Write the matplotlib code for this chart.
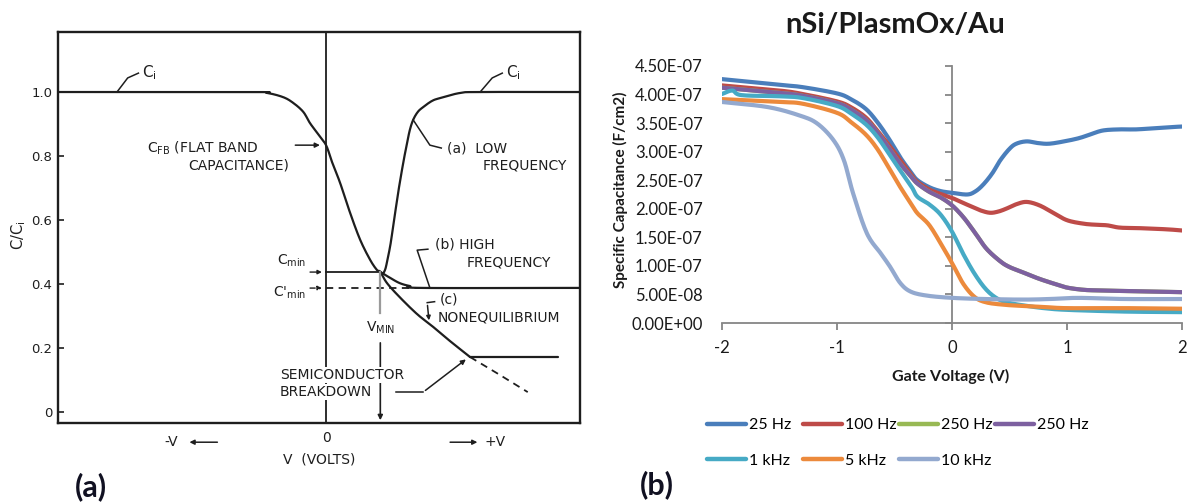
import numpy as np
import matplotlib
matplotlib.use("Agg")
import matplotlib.pyplot as plt
from matplotlib.lines import Line2D

# ---------- panel (a): textbook MOS C-V sketch (C/Ci vs V, arbitrary volts) ----------
main_v = [-4.0, -1.13, -0.88, -0.64, -0.49, -0.34, -0.24, -0.12, 0.0, 0.09, 0.21, 0.36,
          0.51, 0.66, 0.76, 0.81, 0.91, 1.10, 1.36, 1.60, 1.85, 2.15]
main_c = [1.0, 1.0, 0.997, 0.984, 0.966, 0.938, 0.903, 0.869, 0.834, 0.781, 0.716, 0.622,
          0.538, 0.475, 0.444, 0.438, 0.403, 0.359, 0.306, 0.266, 0.222, 0.172]
low_v = [0.81, 0.84, 0.88, 0.91, 0.96, 1.00, 1.06, 1.10, 1.16, 1.21, 1.25, 1.30, 1.37,
         1.45, 1.58, 1.70, 2.00, 2.30, 3.79]
low_c = [0.438, 0.431, 0.444, 0.469, 0.522, 0.578, 0.663, 0.716, 0.788, 0.841, 0.881,
         0.913, 0.938, 0.953, 0.972, 0.981, 0.997, 1.0, 1.0]
high_v = [0.81, 0.96, 1.10, 1.25, 1.45, 3.79]
high_c = [0.438, 0.419, 0.403, 0.394, 0.388, 0.388]
brk_v = [2.15, 3.46]
brk_c = [0.172, 0.172]
beyond_v = [2.15, 2.58, 3.01]
beyond_c = [0.172, 0.118, 0.0625]
c_min = 0.4375
c_min_prime = 0.3875
v_min = 0.81
a_ticks = [0, 0.2, 0.4, 0.6, 0.8, 1.0]
a_ticklabels = ["0", "0.2", "0.4", "0.6", "0.8", "1.0"]

# ---------- panel (b): measured C-V, nSi/PlasmOx/Au (C in 1e-7 F/cm2) ----------
v_25hz = [-2.0, -1.5, -1.3, -1.0, -0.88, -0.75, -0.65, -0.55, -0.45, -0.35, -0.3, -0.2, -0.1,
          0.0, 0.13, 0.2, 0.27, 0.35, 0.42, 0.5, 0.56, 0.65, 0.75, 0.85, 1.0, 1.11, 1.2,
          1.31, 1.45, 1.6, 1.75, 1.9, 2.0]
c_25hz = [4.27, 4.17, 4.13, 4.02, 3.92, 3.75, 3.52, 3.23, 2.90, 2.62, 2.50, 2.38, 2.31,
          2.28, 2.25, 2.30, 2.42, 2.62, 2.85, 3.05, 3.14, 3.18, 3.15, 3.14, 3.19, 3.24, 3.30,
          3.37, 3.39, 3.39, 3.41, 3.43, 3.44]
v_100hz = [-2.0, -1.5, -1.3, -1.0, -0.88, -0.75, -0.65, -0.55, -0.45, -0.35, -0.3, -0.2, -0.1,
           0.0, 0.1, 0.18, 0.25, 0.33, 0.4, 0.47, 0.56, 0.65, 0.76, 0.88, 1.0, 1.14, 1.25,
           1.35, 1.46, 1.64, 1.87, 2.0]
c_100hz = [4.16, 4.07, 4.01, 3.88, 3.78, 3.60, 3.37, 3.12, 2.85, 2.58, 2.47, 2.34, 2.26,
           2.19, 2.10, 2.03, 1.97, 1.93, 1.95, 2.00, 2.08, 2.12, 2.06, 1.93, 1.80, 1.74, 1.72,
           1.71, 1.67, 1.66, 1.64, 1.62]
v_250hz = [-2.0, -1.5, -1.3, -1.0, -0.88, -0.75, -0.65, -0.55, -0.45, -0.35, -0.3, -0.2, -0.1,
           0.0, 0.1, 0.2, 0.3, 0.42, 0.5, 0.6, 0.75, 0.9, 1.0, 1.15, 1.3, 1.5, 1.75, 2.0]
c_250hz = [4.12, 4.03, 3.98, 3.85, 3.74, 3.56, 3.34, 3.07, 2.79, 2.55, 2.44, 2.30, 2.20,
           2.06, 1.85, 1.58, 1.30, 1.08, 0.98, 0.90, 0.78, 0.68, 0.62, 0.58, 0.57, 0.56, 0.55,
           0.54]
v_1khz = [-2.0, -1.91, -1.83, -1.5, -1.3, -1.0, -0.88, -0.75, -0.65, -0.55, -0.45, -0.35,
          -0.3, -0.2, -0.1, 0.0, 0.1, 0.2, 0.3, 0.4, 0.5, 0.65, 0.8, 1.0, 1.5, 2.0]
c_1khz = [4.01, 4.07, 3.99, 3.97, 3.94, 3.80, 3.67, 3.48, 3.26, 2.97, 2.67, 2.38,
          2.21, 2.08, 1.90, 1.60, 1.20, 0.85, 0.58, 0.42, 0.35, 0.30, 0.26, 0.23, 0.20, 0.19]
v_5khz = [-2.0, -1.5, -1.3, -1.0, -0.88, -0.75, -0.65, -0.55, -0.45, -0.35, -0.3, -0.2, -0.1,
          0.0, 0.1, 0.2, 0.3, 0.45, 0.6, 0.8, 1.0, 1.5, 2.0]
c_5khz = [3.92, 3.87, 3.84, 3.68, 3.52, 3.30, 3.05, 2.72, 2.38, 2.07, 1.92, 1.72, 1.40,
          1.05, 0.68, 0.45, 0.36, 0.32, 0.30, 0.28, 0.26, 0.26, 0.25]
v_10khz = [-2.0, -1.6, -1.32, -1.17, -1.03, -0.94, -0.86, -0.74, -0.62, -0.54, -0.45, -0.36,
           -0.22, 0.0, 0.28, 0.62, 0.85, 1.1, 1.5, 2.0]
c_10khz = [3.87, 3.78, 3.63, 3.49, 3.20, 2.85, 2.27, 1.57, 1.22, 0.99, 0.70, 0.55,
           0.48, 0.44, 0.42, 0.41, 0.42, 0.44, 0.42, 0.42]

series = [
    ("25 Hz", v_25hz, c_25hz, "#4a7ebb"),
    ("100 Hz", v_100hz, c_100hz, "#be4b48"),
    ("250 Hz", v_250hz, c_250hz, "#98b954"),
    ("250 Hz", v_250hz, c_250hz, "#7d60a0"),
    ("1 kHz", v_1khz, c_1khz, "#46aac5"),
    ("5 kHz", v_5khz, c_5khz, "#ec8a3c"),
    ("10 kHz", v_10khz, c_10khz, "#93a9cf"),
]
b_yticks = np.arange(0, 4.51e-7, 0.5e-7)
b_xticks = [-2, -1, 0, 1, 2]


def smooth(x, y, n=12):
    """Catmull-Rom path through the points, like Excel's 'smoothed line'."""
    x = np.asarray(x, float)
    y = np.asarray(y, float)
    px = np.r_[2 * x[0] - x[1], x, 2 * x[-1] - x[-2]]
    py = np.r_[2 * y[0] - y[1], y, 2 * y[-1] - y[-2]]
    t = np.linspace(0, 1, n, endpoint=False)[:, None]
    pts = []
    for i in range(len(x) - 1):
        p0, p1, p2, p3 = (np.array([px[i + k], py[i + k]]) for k in range(4))
        seg = 0.5 * ((2 * p1) + (-p0 + p2) * t + (2 * p0 - 5 * p1 + 4 * p2 - p3) * t ** 2
                     + (-p0 + 3 * p1 - 3 * p2 + p3) * t ** 3)
        pts.append(seg)
    pts.append(np.array([[x[-1], y[-1]]]))
    pts = np.vstack(pts)
    return pts[:, 0], pts[:, 1]


W, H = 1196, 504
fig = plt.figure(figsize=(W / 100, H / 100), dpi=100)

# ================= (a) =================
ink = "#1e1e1e"
fs = 10
ax1 = fig.add_axes([58 / W, 1 - 423 / H, 522 / W, 391 / H])
ax1.set_xlim(-4.0, 3.79)
ax1.set_ylim(-0.034, 1.1875)
kw = dict(color=ink, lw=1.6, solid_capstyle="round")
ax1.plot(*smooth(main_v, main_c), **kw)
ax1.plot(*smooth(low_v, low_c), **kw)
ax1.plot(*smooth(high_v, high_c), **kw)
ax1.plot(brk_v, brk_c, **kw)
ax1.plot(beyond_v, beyond_c, color=ink, lw=1.3, ls=(0, (4, 3)))
ax1.axvline(0, color=ink, lw=1.3, zorder=1)
ax1.plot([0, v_min], [c_min, c_min], color=ink, lw=1.3)
ax1.plot([0, high_v[-2]], [c_min_prime, c_min_prime], color=ink, lw=1.3, ls=(0, (4, 3)))
# V_min marker
ax1.plot([v_min, v_min], [c_min, 0.309], color="#9a9a9a", lw=1.6)
ax1.annotate("", xy=(v_min, -0.034), xytext=(v_min, 0.225),
             arrowprops=dict(arrowstyle="-|>", color=ink, lw=1.2, mutation_scale=7))
for s in ax1.spines.values():
    s.set_linewidth(1.7)
    s.set_color(ink)
ax1.set_yticks(a_ticks, a_ticklabels)
ax1.tick_params(axis="y", direction="in", length=4, width=1.2, labelsize=9.5, pad=4,
                colors=ink)
ax1.set_xticks([0], ["0"])
ax1.tick_params(axis="x", length=0, labelsize=fs, pad=6, colors=ink)
ax1.set_xlabel("V  (VOLTS)", fontsize=fs, labelpad=5, color=ink)
ax1.set_ylabel(r"C/C$_\mathregular{i}$", fontsize=10.5, color=ink)
ax1.yaxis.set_label_coords(-0.058, 0.48)

tk = dict(fontsize=fs, color=ink, clip_on=False)
lk = dict(color=ink, lw=1.1, clip_on=False)
# C_i labels
ax1.plot([-3.12, -2.96, -2.80], [1.0, 1.044, 1.059], **lk)
ax1.text(-2.74, 1.059, r"C$_\mathregular{i}$", va="center", ha="left", fontsize=11, color=ink)
ax1.plot([2.30, 2.48, 2.63], [1.0, 1.044, 1.059], **lk)
ax1.text(2.69, 1.059, r"C$_\mathregular{i}$", va="center", ha="left", fontsize=11, color=ink)
# flat band
ax1.text(-2.67, 0.825, r"C$_\mathregular{FB}$ (FLAT BAND", va="center", ha="left", **tk)
ax1.text(-2.06, 0.772, "CAPACITANCE)", va="center", ha="left", **tk)
ax1.annotate("", xy=(-0.05, 0.834), xytext=(-0.50, 0.834),
             arrowprops=dict(arrowstyle="-|>", color=ink, lw=1.1, mutation_scale=7))
# low frequency
ax1.plot([1.30, 1.55, 1.72], [0.913, 0.834, 0.825], **lk)
ax1.text(1.81, 0.822, "(a)  LOW", va="center", ha="left", **tk)
ax1.text(2.33, 0.772, "FREQUENCY", va="center", ha="left", **tk)
# high frequency
ax1.plot([1.55, 1.36, 1.52], [0.388, 0.506, 0.509], **lk)
ax1.text(1.63, 0.525, "(b) HIGH", va="center", ha="left", **tk)
ax1.text(2.10, 0.466, "FREQUENCY", va="center", ha="left", **tk)
# nonequilibrium
ax1.plot([1.62, 1.51], [0.345, 0.342], **lk)
ax1.annotate("", xy=(1.54, 0.278), xytext=(1.51, 0.342),
             arrowprops=dict(arrowstyle="-|>", color=ink, lw=1.1, mutation_scale=6))
ax1.text(1.70, 0.352, "(c)", va="center", ha="left", **tk)
ax1.text(1.67, 0.297, "NONEQUILIBRIUM", va="center", ha="left", **tk)
# C_min labels
ax1.text(-0.30, 0.472, r"C$_\mathregular{min}$", va="center", ha="right", **tk)
ax1.annotate("", xy=(-0.02, c_min), xytext=(-0.28, c_min),
             arrowprops=dict(arrowstyle="-|>", color=ink, lw=1.0, mutation_scale=6))
ax1.text(-0.30, 0.372, r"C'$_\mathregular{min}$", va="center", ha="right", **tk)
ax1.annotate("", xy=(-0.02, c_min_prime), xytext=(-0.28, c_min_prime),
             arrowprops=dict(arrowstyle="-|>", color=ink, lw=1.0, ls="--",
                             mutation_scale=6))
ax1.text(v_min, 0.262, r"V$_\mathregular{MIN}$", va="center", ha="center", **tk)
# breakdown
wb = dict(fc="white", ec="none", pad=1.0)
ax1.text(-0.69, 0.116, "SEMICONDUCTOR", va="center", ha="left", bbox=wb, zorder=5, **tk)
ax1.text(-0.69, 0.0625, "BREAKDOWN", va="center", ha="left", bbox=wb, zorder=5, **tk)
ax1.plot([1.05, 1.45], [0.0625, 0.0625], **lk)
ax1.annotate("", xy=(2.12, 0.170), xytext=(1.45, 0.0625),
             arrowprops=dict(arrowstyle="-|>", color=ink, lw=1.1, mutation_scale=7))
# voltage direction
ax1.text(-2.31, -0.094, "-V", va="center", ha="center", **tk)
ax1.annotate("", xy=(-2.08, -0.094), xytext=(-1.58, -0.094), annotation_clip=False,
             arrowprops=dict(arrowstyle="-|>", color=ink, lw=1.1, mutation_scale=7))
ax1.annotate("", xy=(2.30, -0.094), xytext=(1.81, -0.094), annotation_clip=False,
             arrowprops=dict(arrowstyle="-|>", color=ink, lw=1.1, mutation_scale=7))
ax1.text(2.52, -0.094, "+V", va="center", ha="center", **tk)

# ================= (b) =================
font_b = ["Lato", "DejaVu Sans"]
axis_gray = "#868686"
ax2 = fig.add_axes([722 / W, 1 - 323 / H, 460 / W, 257 / H])
ax2.set_xlim(-2, 2)
ax2.set_ylim(0, 4.5e-7)
ax2.patch.set_visible(False)
for label, v, c, col in series:
    sx, sy = smooth(v, np.array(c) * 1e-7)
    ax2.plot(sx, sy, color=col, lw=3.0, label=label,
             solid_capstyle="round", solid_joinstyle="round")
for side in ("top", "right", "left"):
    ax2.spines[side].set_visible(False)
ax2.spines["bottom"].set_color(axis_gray)
ax2.spines["bottom"].set_linewidth(1.3)
ax2.set_yticks(b_yticks, ["{:.2E}".format(t) for t in b_yticks])
ax2.tick_params(axis="y", length=0, pad=14, labelsize=12, labelcolor="#1a1a1a")
ax2.set_xticks(b_xticks, [str(t) for t in b_xticks])
ax2.tick_params(axis="x", direction="out", length=5, width=1.3, color=axis_gray,
                pad=7, labelsize=12, labelcolor="#1a1a1a")
for t in ax2.get_xticklabels() + ax2.get_yticklabels():
    t.set_family(font_b)

# vertical axis crossing at V = 0, drawn behind the data
ax3 = ax2.twinx()
ax3.set_ylim(ax2.get_ylim())
ax3.set_zorder(ax2.get_zorder() - 1)
ax3.patch.set_visible(False)
for side in ("top", "left", "bottom"):
    ax3.spines[side].set_visible(False)
ax3.spines["right"].set_position(("axes", 0.5))
ax3.spines["right"].set_color(axis_gray)
ax3.spines["right"].set_linewidth(1.3)
ax3.set_yticks(b_yticks)
ax3.tick_params(axis="y", direction="in", length=5, width=1.3, color=axis_gray,
                labelright=False)

fig.text(895 / W, 1 - 25 / H, "nSi/PlasmOx/Au", ha="center", va="center",
         fontsize=21, fontweight="bold", family=font_b, color="#1a1a1a")
fig.text(951 / W, 1 - 376 / H, "Gate Voltage (V)", ha="center", va="center",
         fontsize=11.5, fontweight="bold", family=font_b, color="#1a1a1a")
fig.text(620 / W, 1 - 190 / H, "Specific Capacitance (F/cm2)", ha="center", va="center",
         rotation=90, fontsize=11, fontweight="bold", family=font_b, color="#1a1a1a")

# Excel-style legend: equal-width columns, filled row by row
legend_cols = [[0, 4], [1, 5], [2, 6], [3]]
col_x = [707, 803, 899, 995]
for idx, x0 in zip(legend_cols, col_x):
    fig.legend([Line2D([], [], color=series[i][3], lw=3.2, solid_capstyle="round")
                for i in idx],
               [series[i][0] for i in idx], loc="upper left",
               bbox_to_anchor=(x0 / W, 1 - 418 / H), frameon=False,
               prop=dict(family=font_b, size=11.5), handlelength=2.45,
               handletextpad=0.2, labelspacing=1.35, borderpad=0, borderaxespad=0)

fig.text(91 / W, 1 - 487 / H, "(a)", ha="center", va="center", fontsize=22,
         fontweight="bold", family=font_b, color="#111122")
fig.text(657 / W, 1 - 485 / H, "(b)", ha="center", va="center", fontsize=22,
         fontweight="bold", family=font_b, color="#111122")

fig.savefig("out.png", dpi=100, facecolor="white")
